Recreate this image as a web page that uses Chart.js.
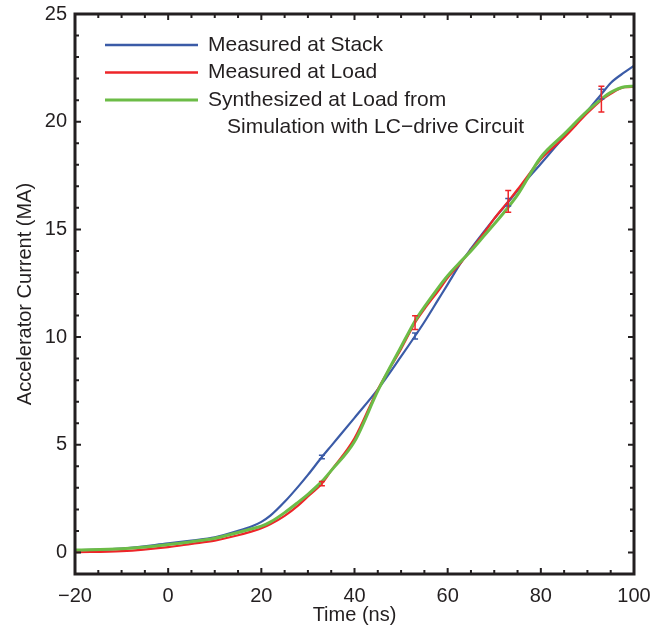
<!DOCTYPE html>
<html>
<head>
<meta charset="utf-8">
<script src="https://cdn.jsdelivr.net/npm/chart.js@4.4.1/dist/chart.umd.min.js"></script>
<style>
  html, body { margin: 0; padding: 0; background: #fff; }
</style>
</head>
<body>
<canvas id="c" width="654" height="635"></canvas>
<script>
(function () {
    'use strict';

    // ---- data ----
    const timeNs = [-20, -10, 0, 5, 10, 15, 18, 20, 22, 25, 28, 30, 33, 35, 40, 45, 50, 53, 55, 58, 60, 63, 65, 68, 70, 73, 75, 80, 85, 90, 93, 95, 98, 100];
    const stackMA = [0.10, 0.18, 0.42, 0.55, 0.70, 1.00, 1.22, 1.42, 1.72, 2.35, 3.08, 3.60, 4.43, 4.95, 6.25, 7.57, 9.10, 10.05, 10.70, 11.75, 12.45, 13.50, 14.10, 14.95, 15.50, 16.26, 16.80, 18.05, 19.30, 20.50, 21.28, 21.80, 22.30, 22.60];
    const loadMA  = [0.01, 0.06, 0.25, 0.40, 0.55, 0.80, 0.98, 1.12, 1.32, 1.70, 2.20, 2.60, 3.20, 3.80, 5.30, 7.57, 9.45, 10.67, 11.30, 12.15, 12.75, 13.50, 14.05, 14.90, 15.50, 16.30, 16.85, 18.26, 19.27, 20.40, 21.00, 21.30, 21.60, 21.62];
    const synthMA = [0.11, 0.17, 0.37, 0.50, 0.66, 0.93, 1.10, 1.22, 1.42, 1.85, 2.35, 2.70, 3.30, 3.80, 5.15, 7.50, 9.55, 10.75, 11.40, 12.30, 12.85, 13.55, 14.00, 14.75, 15.25, 16.03, 16.60, 18.35, 19.42, 20.50, 21.05, 21.36, 21.62, 21.65];

    // error bars
    const errTimes   = [33, 53, 73, 93];
    const loadErrMid = [3.20, 10.67, 16.30, 21.05];
    const loadErrHalf = [0.10, 0.32, 0.50, 0.60];
    const stackErrMid = [4.43, 10.05, 16.26, 21.28];
    const stackErrHalf = [0.08, 0.14, 0.17, 0.23];

    const seriesNames = ['Measured at Stack', 'Measured at Load', 'Synthesized at Load from'];
    const extraLegendLine = 'Simulation with LC\u2212drive Circuit';
    const colors = ['#3b5ba7', '#ee2529', '#6cbc47'];

    const xTicksMajor = [-20, 0, 20, 40, 60, 80, 100];
    const yTicksMajor = [0, 5, 10, 15, 20, 25];

    const FONT = '"Liberation Sans", Arial, Helvetica, sans-serif';
    const INK = '#231f20';

    const pts = (ys) => timeNs.map((t, i) => ({ x: t, y: ys[i] }));

    // ---- plugin: box, inward ticks, error bars, legend ----
    const framePlugin = {
        id: 'frame',
        afterDatasetsDraw(chart) {
            const ctx = chart.ctx;
            const xs = chart.scales.x, ys = chart.scales.y;
            const a = chart.chartArea;

            function bars(mid, half, color, w) {
                ctx.save();
                ctx.strokeStyle = color; ctx.lineWidth = w;
                errTimes.forEach((t, i) => {
                    const px = xs.getPixelForValue(t);
                    const y1 = ys.getPixelForValue(mid[i] - half[i]);
                    const y2 = ys.getPixelForValue(mid[i] + half[i]);
                    ctx.beginPath();
                    ctx.moveTo(px, y1); ctx.lineTo(px, y2);
                    ctx.moveTo(px - 3, y1); ctx.lineTo(px + 3, y1);
                    ctx.moveTo(px - 3, y2); ctx.lineTo(px + 3, y2);
                    ctx.stroke();
                });
                ctx.restore();
            }
            bars(stackErrMid, stackErrHalf, colors[0], 1.5);
            bars(loadErrMid, loadErrHalf, colors[1], 1.5);

            // ticks
            ctx.save();
            ctx.strokeStyle = INK; ctx.lineWidth = 2;
            ctx.beginPath();
            for (let v = -20; v <= 100; v += 5) {
                const px = xs.getPixelForValue(v);
                const len = v % 20 === 0 ? 6 : 4;
                ctx.moveTo(px, a.bottom); ctx.lineTo(px, a.bottom - len);
                ctx.moveTo(px, a.top); ctx.lineTo(px, a.top + len);
            }
            for (let v = 0; v <= 25; v += 1) {
                const py = ys.getPixelForValue(v);
                const len = v % 5 === 0 ? 6 : 4;
                ctx.moveTo(a.left, py); ctx.lineTo(a.left + len, py);
                ctx.moveTo(a.right, py); ctx.lineTo(a.right - len, py);
            }
            ctx.stroke();
            ctx.lineWidth = 3;
            ctx.strokeRect(a.left, a.top, a.right - a.left, a.bottom - a.top);
            ctx.restore();

            // legend
            ctx.save();
            ctx.font = '21px ' + FONT;
            ctx.fillStyle = INK;
            ctx.textBaseline = 'middle';
            const rowY = [45, 72.5, 100];
            seriesNames.forEach((name, i) => {
                ctx.strokeStyle = colors[i];
                ctx.lineWidth = i === 2 ? 3 : 2.5;
                ctx.beginPath();
                ctx.moveTo(105, rowY[i]); ctx.lineTo(198, rowY[i]);
                ctx.stroke();
                ctx.fillText(name, 208, rowY[i]);
            });
            ctx.fillText(extraLegendLine, 227, 127.5);
            ctx.restore();
        }
    };

    const line = (label, data, color, width, order) => ({
        label, data, borderColor: color, backgroundColor: color,
        borderWidth: width, pointRadius: 0, cubicInterpolationMode: 'monotone',
        fill: false, order
    });

    new Chart(document.getElementById('c'), {
        type: 'line',
        data: {
            datasets: [
                line(seriesNames[0], pts(stackMA), colors[0], 2.2, 3),
                line(seriesNames[1], pts(loadMA), colors[1], 2.2, 2),
                line(seriesNames[2], pts(synthMA), colors[2], 3, 1)
            ]
        },
        options: {
            responsive: false,
            animation: false,
            layout: { padding: { top: 14, right: 20, left: 0, bottom: 0 } },
            plugins: { legend: { display: false }, tooltip: { enabled: false } },
            scales: {
                x: {
                    type: 'linear', min: -20, max: 100,
                    afterBuildTicks: (s) => { s.ticks = xTicksMajor.map(v => ({ value: v })); },
                    afterFit: (s) => { s.height = 61; s.paddingLeft = 0; s.paddingRight = 0; },
                    grid: { display: false, drawTicks: false },
                    border: { display: false },
                    ticks: {
                        padding: 10, color: INK, font: { family: FONT, size: 20 },
                        maxRotation: 0, callback: (v) => (v < 0 ? '\u2212' + Math.abs(v) : String(v))
                    },
                    title: { display: true, text: 'Time (ns)', color: INK, font: { family: FONT, size: 20 }, padding: { top: 0, bottom: 8 } }
                },
                y: {
                    type: 'linear', min: -1, max: 25,
                    afterBuildTicks: (s) => { s.ticks = yTicksMajor.map(v => ({ value: v })); },
                    afterFit: (s) => { s.width = 75; s.paddingTop = 0; s.paddingBottom = 0; },
                    grid: { display: false, drawTicks: false },
                    border: { display: false },
                    ticks: { padding: 8, color: INK, font: { family: FONT, size: 20 } },
                    title: { display: true, text: 'Accelerator Current (MA)', color: INK, font: { family: FONT, size: 20 }, padding: { top: 13, bottom: 0 } }
                }
            }
        },
        plugins: [framePlugin]
    });
})();
</script>
</body>
</html>
